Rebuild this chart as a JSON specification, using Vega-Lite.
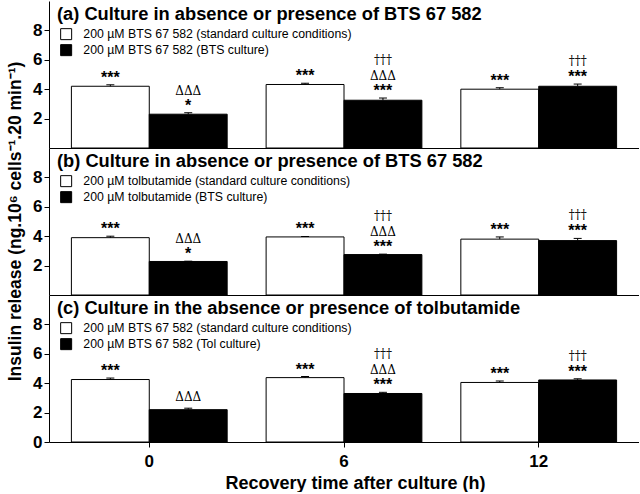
{
  "$schema": "https://vega.github.io/schema/vega-lite/v6.json",
  "padding": {"left": 6, "top": 1, "right": 0, "bottom": 0},
  "background": "white",
  "spacing": 0,
  "bounds": "flush",
  "datasets": {
    "bars": [
      {"panel": "a", "time": 0, "cond": "std", "series": "200 µM BTS 67 582 (standard culture conditions)", "value": 4.2, "err": 4.3, "stars": "***", "delta": "", "dagger": ""},
      {"panel": "a", "time": 0, "cond": "cult", "series": "200 µM BTS 67 582 (BTS culture)", "value": 2.3, "err": 2.4, "stars": "*", "delta": "ΔΔΔ", "dagger": ""},
      {"panel": "a", "time": 6, "cond": "std", "series": "200 µM BTS 67 582 (standard culture conditions)", "value": 4.32, "err": 4.4, "stars": "***", "delta": "", "dagger": ""},
      {"panel": "a", "time": 6, "cond": "cult", "series": "200 µM BTS 67 582 (BTS culture)", "value": 3.25, "err": 3.4, "stars": "***", "delta": "ΔΔΔ", "dagger": "†††"},
      {"panel": "a", "time": 12, "cond": "std", "series": "200 µM BTS 67 582 (standard culture conditions)", "value": 4.0, "err": 4.1, "stars": "***", "delta": "", "dagger": ""},
      {"panel": "a", "time": 12, "cond": "cult", "series": "200 µM BTS 67 582 (BTS culture)", "value": 4.2, "err": 4.35, "stars": "***", "delta": "", "dagger": "†††"},
      {"panel": "b", "time": 0, "cond": "std", "series": "200 µM tolbutamide (standard culture conditions)", "value": 3.9, "err": 4.0, "stars": "***", "delta": "", "dagger": ""},
      {"panel": "b", "time": 0, "cond": "cult", "series": "200 µM tolbutamide (BTS culture)", "value": 2.28, "err": 2.3, "stars": "*", "delta": "ΔΔΔ", "dagger": ""},
      {"panel": "b", "time": 6, "cond": "std", "series": "200 µM tolbutamide (standard culture conditions)", "value": 3.95, "err": 3.98, "stars": "***", "delta": "", "dagger": ""},
      {"panel": "b", "time": 6, "cond": "cult", "series": "200 µM tolbutamide (BTS culture)", "value": 2.75, "err": 2.78, "stars": "***", "delta": "ΔΔΔ", "dagger": "†††"},
      {"panel": "b", "time": 12, "cond": "std", "series": "200 µM tolbutamide (standard culture conditions)", "value": 3.8, "err": 3.95, "stars": "***", "delta": "", "dagger": ""},
      {"panel": "b", "time": 12, "cond": "cult", "series": "200 µM tolbutamide (BTS culture)", "value": 3.7, "err": 3.85, "stars": "***", "delta": "", "dagger": "†††"},
      {"panel": "c", "time": 0, "cond": "std", "series": "200 µM BTS 67 582 (standard culture conditions)", "value": 4.25, "err": 4.35, "stars": "***", "delta": "", "dagger": ""},
      {"panel": "c", "time": 0, "cond": "cult", "series": "200 µM BTS 67 582 (Tol culture)", "value": 2.2, "err": 2.3, "stars": "", "delta": "ΔΔΔ", "dagger": ""},
      {"panel": "c", "time": 6, "cond": "std", "series": "200 µM BTS 67 582 (standard culture conditions)", "value": 4.38, "err": 4.45, "stars": "***", "delta": "", "dagger": ""},
      {"panel": "c", "time": 6, "cond": "cult", "series": "200 µM BTS 67 582 (Tol culture)", "value": 3.3, "err": 3.38, "stars": "***", "delta": "ΔΔΔ", "dagger": "†††"},
      {"panel": "c", "time": 12, "cond": "std", "series": "200 µM BTS 67 582 (standard culture conditions)", "value": 4.05, "err": 4.15, "stars": "***", "delta": "", "dagger": ""},
      {"panel": "c", "time": 12, "cond": "cult", "series": "200 µM BTS 67 582 (Tol culture)", "value": 4.22, "err": 4.3, "stars": "***", "delta": "", "dagger": "†††"}
    ]
  },
  "config": {
    "view": {"stroke": null},
    "font": "Liberation Sans",
    "axis": {
      "grid": false, "domainColor": "black", "tickColor": "black", "labelColor": "black", "titleColor": "black",
      "labelFont": "Liberation Sans", "labelFontWeight": "bold", "labelFontSize": 17, "labelOverlap": false,
      "titleFont": "Liberation Sans", "titleFontSize": 17, "titleFontWeight": "bold",
      "tickSize": 5, "domainWidth": 1, "tickWidth": 1, "labelPadding": 2
    },
    "axisY": {"tickCount": 10},
    "legend": {
      "orient": "none", "legendX": 11, "legendY": 27, "title": null, "symbolType": "square", "symbolSize": 121,
      "symbolStrokeColor": "black", "symbolStrokeWidth": 1, "labelFont": "Liberation Sans", "labelFontSize": 12.3,
      "labelColor": "black", "rowPadding": 0, "padding": 0, "labelOffset": 11, "labelLimit": 0
    },
    "title": {
      "anchor": "start", "frame": "group", "offset": 0, "dx": 8, "dy": 27, "baseline": "alphabetic",
      "font": "Liberation Sans", "fontSize": 18.3, "fontWeight": "bold", "color": "black"
    }
  },
  "resolve": {"scale": {"fill": "independent"}, "legend": {"fill": "independent"}},
  "vconcat": [
    {
      "width": 590, "height": 147,
      "title": "(a) Culture in absence or presence of BTS 67 582",
      "data": {"name": "bars"},
      "transform": [{"filter": "datum.panel == 'a'"}],
      "encoding": {
        "x": {"field": "time", "type": "ordinal", "sort": [0, 6, 12], "scale": {"paddingInner": 0.2, "paddingOuter": 0.115}, "axis": {"labels": false, "ticks": false, "title": null}},
        "xOffset": {"field": "cond", "type": "nominal", "sort": ["std", "cult"], "scale": {"paddingInner": 0, "paddingOuter": 0}}
      },
      "layer": [
        {"mark": {"type": "bar", "stroke": "black", "strokeWidth": 1},
         "encoding": {
           "y": {"field": "value", "type": "quantitative", "scale": {"domain": [0, 10]}, "axis": {"values": [2, 4, 6, 8], "tickCount": 10, "labelOverlap": false, "title": "Insulin release (ng.10⁶ cells⁻¹.20 min⁻¹)", "titleY": 220, "titleAlign": "center", "titlePadding": 8, "titleFontSize": 17.5}},
           "fill": {"field": "series", "type": "nominal", "scale": {"domain": ["200 µM BTS 67 582 (standard culture conditions)", "200 µM BTS 67 582 (BTS culture)"], "range": ["white", "black"]}}
         }},
        {"mark": {"type": "rule", "color": "black"}, "encoding": {"y": {"field": "value", "type": "quantitative"}, "y2": {"field": "err"}}},
        {"mark": {"type": "tick", "orient": "horizontal", "size": 8, "thickness": 1, "color": "black", "opacity": 1}, "encoding": {"y": {"field": "err", "type": "quantitative"}}},
        {"mark": {"type": "text", "font": "Liberation Sans", "fontWeight": "bold", "fontSize": 16, "baseline": "bottom", "dy": 1, "color": "black"}, "encoding": {"y": {"field": "err", "type": "quantitative"}, "text": {"field": "stars"}}},
        {"transform": [{"filter": "datum.delta != '' && datum.stars != ''"}], "mark": {"type": "text", "font": "DejaVu Serif", "fontSize": 12, "baseline": "bottom", "dy": -15, "color": "black"}, "encoding": {"y": {"field": "err", "type": "quantitative"}, "text": {"field": "delta"}}},
        {"transform": [{"filter": "datum.delta != '' && datum.stars == ''"}], "mark": {"type": "text", "font": "DejaVu Serif", "fontSize": 12, "baseline": "bottom", "dy": -4, "color": "black"}, "encoding": {"y": {"field": "err", "type": "quantitative"}, "text": {"field": "delta"}}},
        {"transform": [{"filter": "datum.dagger != '' && datum.delta != ''"}], "mark": {"type": "text", "font": "DejaVu Serif", "fontSize": 12, "baseline": "bottom", "dy": -31, "color": "black"}, "encoding": {"y": {"field": "err", "type": "quantitative"}, "text": {"field": "dagger"}}},
        {"transform": [{"filter": "datum.dagger != '' && datum.delta == ''"}], "mark": {"type": "text", "font": "DejaVu Serif", "fontSize": 12, "baseline": "bottom", "dy": -16, "color": "black"}, "encoding": {"y": {"field": "err", "type": "quantitative"}, "text": {"field": "dagger"}}}
      ]
    },
    {
      "width": 590, "height": 147,
      "title": "(b) Culture in absence or presence of BTS 67 582",
      "data": {"name": "bars"},
      "transform": [{"filter": "datum.panel == 'b'"}],
      "encoding": {
        "x": {"field": "time", "type": "ordinal", "sort": [0, 6, 12], "scale": {"paddingInner": 0.2, "paddingOuter": 0.115}, "axis": {"labels": false, "ticks": false, "title": null}},
        "xOffset": {"field": "cond", "type": "nominal", "sort": ["std", "cult"], "scale": {"paddingInner": 0, "paddingOuter": 0}}
      },
      "layer": [
        {"mark": {"type": "bar", "stroke": "black", "strokeWidth": 1},
         "encoding": {
           "y": {"field": "value", "type": "quantitative", "scale": {"domain": [0, 10]}, "axis": {"values": [2, 4, 6, 8], "tickCount": 10, "labelOverlap": false, "title": null}},
           "fill": {"field": "series", "type": "nominal", "scale": {"domain": ["200 µM tolbutamide (standard culture conditions)", "200 µM tolbutamide (BTS culture)"], "range": ["white", "black"]}}
         }},
        {"mark": {"type": "rule", "color": "black"}, "encoding": {"y": {"field": "value", "type": "quantitative"}, "y2": {"field": "err"}}},
        {"mark": {"type": "tick", "orient": "horizontal", "size": 8, "thickness": 1, "color": "black", "opacity": 1}, "encoding": {"y": {"field": "err", "type": "quantitative"}}},
        {"mark": {"type": "text", "font": "Liberation Sans", "fontWeight": "bold", "fontSize": 16, "baseline": "bottom", "dy": 1, "color": "black"}, "encoding": {"y": {"field": "err", "type": "quantitative"}, "text": {"field": "stars"}}},
        {"transform": [{"filter": "datum.delta != '' && datum.stars != ''"}], "mark": {"type": "text", "font": "DejaVu Serif", "fontSize": 12, "baseline": "bottom", "dy": -15, "color": "black"}, "encoding": {"y": {"field": "err", "type": "quantitative"}, "text": {"field": "delta"}}},
        {"transform": [{"filter": "datum.delta != '' && datum.stars == ''"}], "mark": {"type": "text", "font": "DejaVu Serif", "fontSize": 12, "baseline": "bottom", "dy": -4, "color": "black"}, "encoding": {"y": {"field": "err", "type": "quantitative"}, "text": {"field": "delta"}}},
        {"transform": [{"filter": "datum.dagger != '' && datum.delta != ''"}], "mark": {"type": "text", "font": "DejaVu Serif", "fontSize": 12, "baseline": "bottom", "dy": -31, "color": "black"}, "encoding": {"y": {"field": "err", "type": "quantitative"}, "text": {"field": "dagger"}}},
        {"transform": [{"filter": "datum.dagger != '' && datum.delta == ''"}], "mark": {"type": "text", "font": "DejaVu Serif", "fontSize": 12, "baseline": "bottom", "dy": -16, "color": "black"}, "encoding": {"y": {"field": "err", "type": "quantitative"}, "text": {"field": "dagger"}}}
      ]
    },
    {
      "width": 590, "height": 147,
      "title": "(c) Culture in the absence or presence of tolbutamide",
      "data": {"name": "bars"},
      "transform": [{"filter": "datum.panel == 'c'"}],
      "encoding": {
        "x": {"field": "time", "type": "ordinal", "sort": [0, 6, 12], "scale": {"paddingInner": 0.2, "paddingOuter": 0.115}, "axis": {"labelAngle": 0, "title": "Recovery time after culture (h)", "titleFontSize": 18, "titleX": 306, "titleAlign": "center", "labelPadding": 6, "titlePadding": 5}},
        "xOffset": {"field": "cond", "type": "nominal", "sort": ["std", "cult"], "scale": {"paddingInner": 0, "paddingOuter": 0}}
      },
      "layer": [
        {"mark": {"type": "bar", "stroke": "black", "strokeWidth": 1},
         "encoding": {
           "y": {"field": "value", "type": "quantitative", "scale": {"domain": [0, 10]}, "axis": {"values": [0, 2, 4, 6, 8], "tickCount": 10, "labelOverlap": false, "title": null}},
           "fill": {"field": "series", "type": "nominal", "scale": {"domain": ["200 µM BTS 67 582 (standard culture conditions)", "200 µM BTS 67 582 (Tol culture)"], "range": ["white", "black"]}}
         }},
        {"mark": {"type": "rule", "color": "black"}, "encoding": {"y": {"field": "value", "type": "quantitative"}, "y2": {"field": "err"}}},
        {"mark": {"type": "tick", "orient": "horizontal", "size": 8, "thickness": 1, "color": "black", "opacity": 1}, "encoding": {"y": {"field": "err", "type": "quantitative"}}},
        {"mark": {"type": "text", "font": "Liberation Sans", "fontWeight": "bold", "fontSize": 16, "baseline": "bottom", "dy": 1, "color": "black"}, "encoding": {"y": {"field": "err", "type": "quantitative"}, "text": {"field": "stars"}}},
        {"transform": [{"filter": "datum.delta != '' && datum.stars != ''"}], "mark": {"type": "text", "font": "DejaVu Serif", "fontSize": 12, "baseline": "bottom", "dy": -15, "color": "black"}, "encoding": {"y": {"field": "err", "type": "quantitative"}, "text": {"field": "delta"}}},
        {"transform": [{"filter": "datum.delta != '' && datum.stars == ''"}], "mark": {"type": "text", "font": "DejaVu Serif", "fontSize": 12, "baseline": "bottom", "dy": -4, "color": "black"}, "encoding": {"y": {"field": "err", "type": "quantitative"}, "text": {"field": "delta"}}},
        {"transform": [{"filter": "datum.dagger != '' && datum.delta != ''"}], "mark": {"type": "text", "font": "DejaVu Serif", "fontSize": 12, "baseline": "bottom", "dy": -31, "color": "black"}, "encoding": {"y": {"field": "err", "type": "quantitative"}, "text": {"field": "dagger"}}},
        {"transform": [{"filter": "datum.dagger != '' && datum.delta == ''"}], "mark": {"type": "text", "font": "DejaVu Serif", "fontSize": 12, "baseline": "bottom", "dy": -16, "color": "black"}, "encoding": {"y": {"field": "err", "type": "quantitative"}, "text": {"field": "dagger"}}}
      ]
    }
  ]
}
